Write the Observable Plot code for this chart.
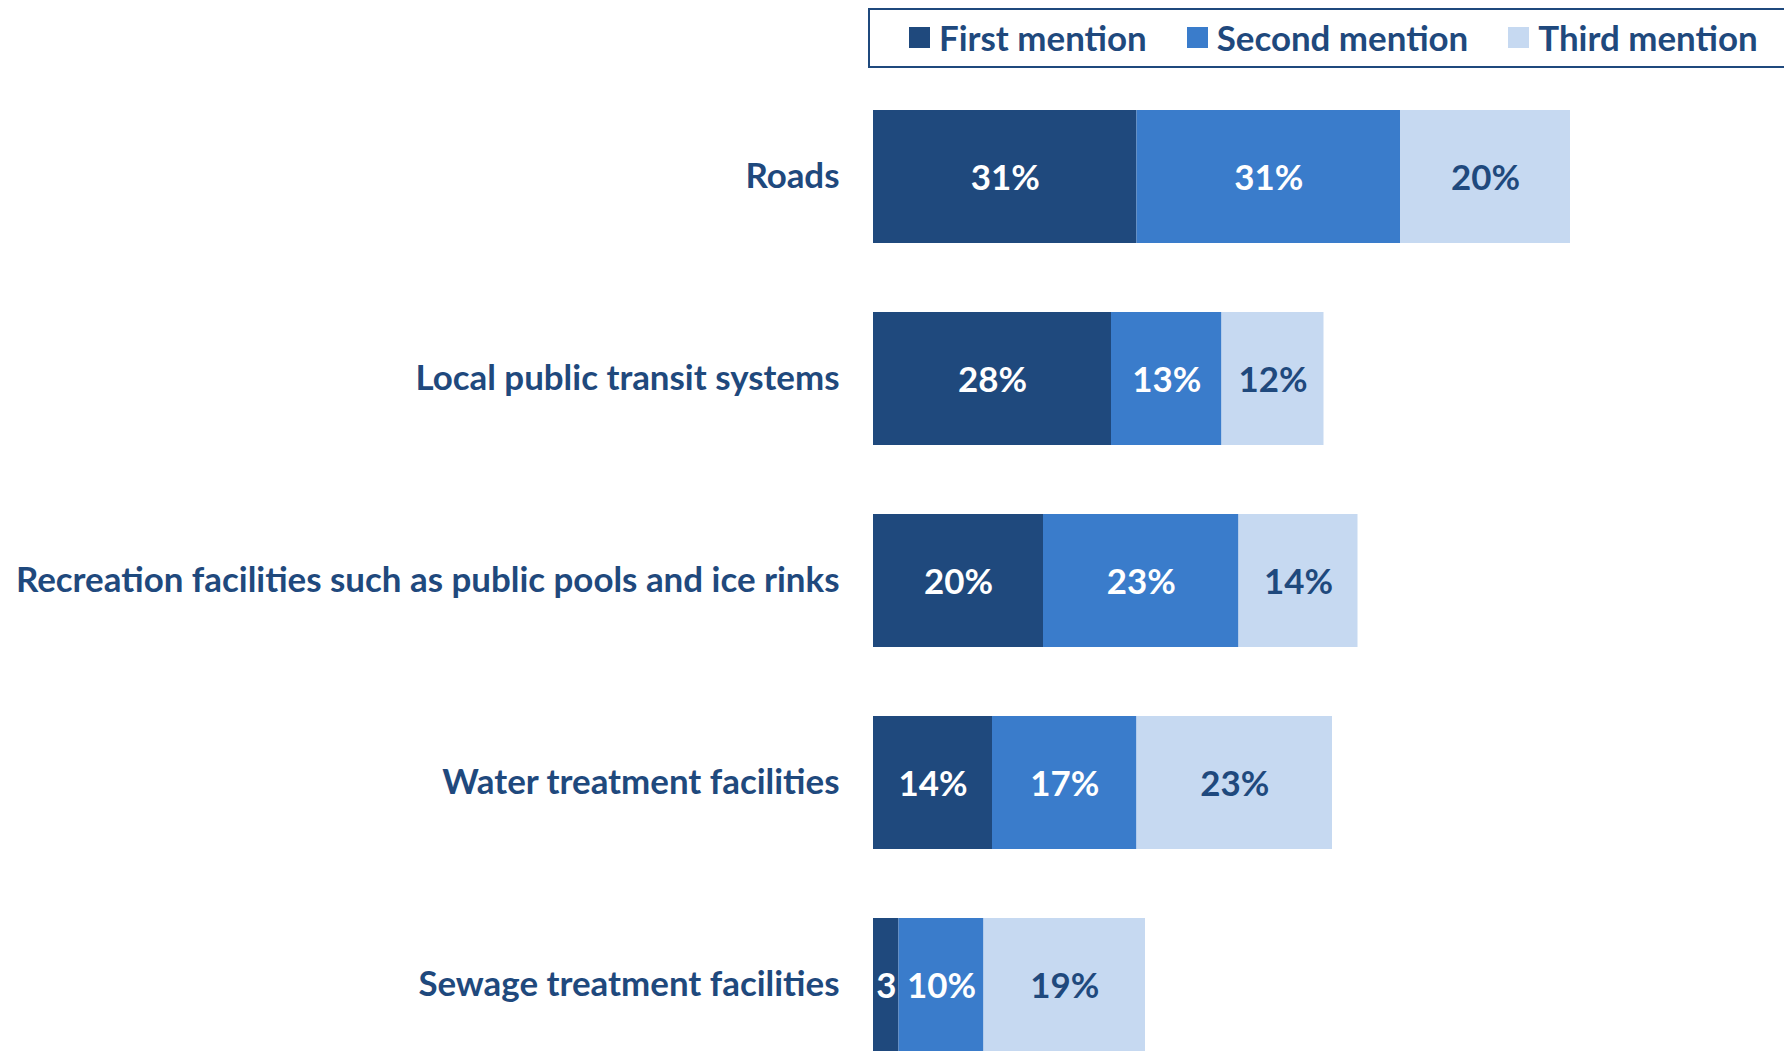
<!DOCTYPE html>
<html><head><meta charset="utf-8">
<script src="https://cdn.jsdelivr.net/npm/d3@7"></script>
<script src="https://cdn.jsdelivr.net/npm/@observablehq/plot@0.6"></script>
<style>
body{margin:0;background:#fff;overflow:hidden;}
#wrap{position:relative;width:1784px;height:1052px;overflow:hidden;}
#legend{position:absolute;left:868px;top:8px;width:1000px;height:60px;border:2px solid #1f497d;box-sizing:border-box;display:flex;align-items:center;padding-left:39px;padding-bottom:2px;font-family:Lato,sans-serif;font-weight:bold;color:#1f497d;white-space:nowrap;}
#legend .item{display:flex;align-items:center;margin-right:40px;flex-shrink:0;}
#legend .sw{width:21px;height:21px;margin-right:9px;flex-shrink:0;}
#chart{position:absolute;left:0;top:0;}
</style>
</head><body>
<div id="wrap"><div id="chart"></div><div id="legend"></div></div>
<script>
const categories = ["Roads","Local public transit systems","Recreation facilities such as public pools and ice rinks","Water treatment facilities","Sewage treatment facilities"];
const series = ["First mention","Second mention","Third mention"];
const firstMention = [31,28,20,14,3];
const secondMention = [31,13,23,17,10];
const thirdMention = [20,12,14,23,19];
const colors = ["#1f497d","#3a7ccb","#c6d9f1"];

const rows = [];
const seriesValues = [firstMention, secondMention, thirdMention];
categories.forEach((c,i)=>{
  seriesValues.forEach((arr,j)=>rows.push({category:c, series:series[j], value:arr[i]}));
});
const fmt = v => v < 5 ? String(v) : v + "%";

// calibrate font size to reference's label width
const cv = document.createElement("canvas").getContext("2d");
cv.font = "bold 100px Lato";
const fs = 100 * 824 / cv.measureText(categories[2]).width;

const legend = document.getElementById("legend");
legend.style.fontSize = fs + "px";
series.forEach((s,j)=>{
  const it = document.createElement("div"); it.className="item";
  const sw = document.createElement("div"); sw.className="sw"; sw.style.background=colors[j];
  const t = document.createElement("span"); t.textContent = s;
  it.appendChild(sw); it.appendChild(t); legend.appendChild(it);
});

const chart = Plot.plot({
  width:1784, height:1052,
  marginTop:109, marginBottom:0, marginLeft:873, marginRight:61,
  style:{fontFamily:"Lato, sans-serif", background:"transparent"},
  x:{domain:[0,100], axis:null},
  y:{domain:categories, paddingInner:0.343, paddingOuter:0, axis:null},
  color:{domain:series, range:colors},
  marks:[
    Plot.barX(rows, {x:"value", y:"category", fill:"series"}),
    Plot.textX(rows, Plot.stackX({x:"value", y:"category", z:"series",
      text: d => d.series === series[2] ? "" : fmt(d.value),
      fill:"#ffffff", fontSize:fs, fontWeight:"bold", dy:2})),
    Plot.textX(rows, Plot.stackX({x:"value", y:"category", z:"series",
      text: d => d.series === series[2] ? fmt(d.value) : "",
      fill:"#1f497d", fontSize:fs, fontWeight:"bold", dy:2})),
    Plot.axisY({tickSize:0, tickPadding:34, label:null, fontSize:fs, fontWeight:"bold", color:"#1f497d"})
  ]
});
document.getElementById("chart").appendChild(chart);
</script>
</body></html>
